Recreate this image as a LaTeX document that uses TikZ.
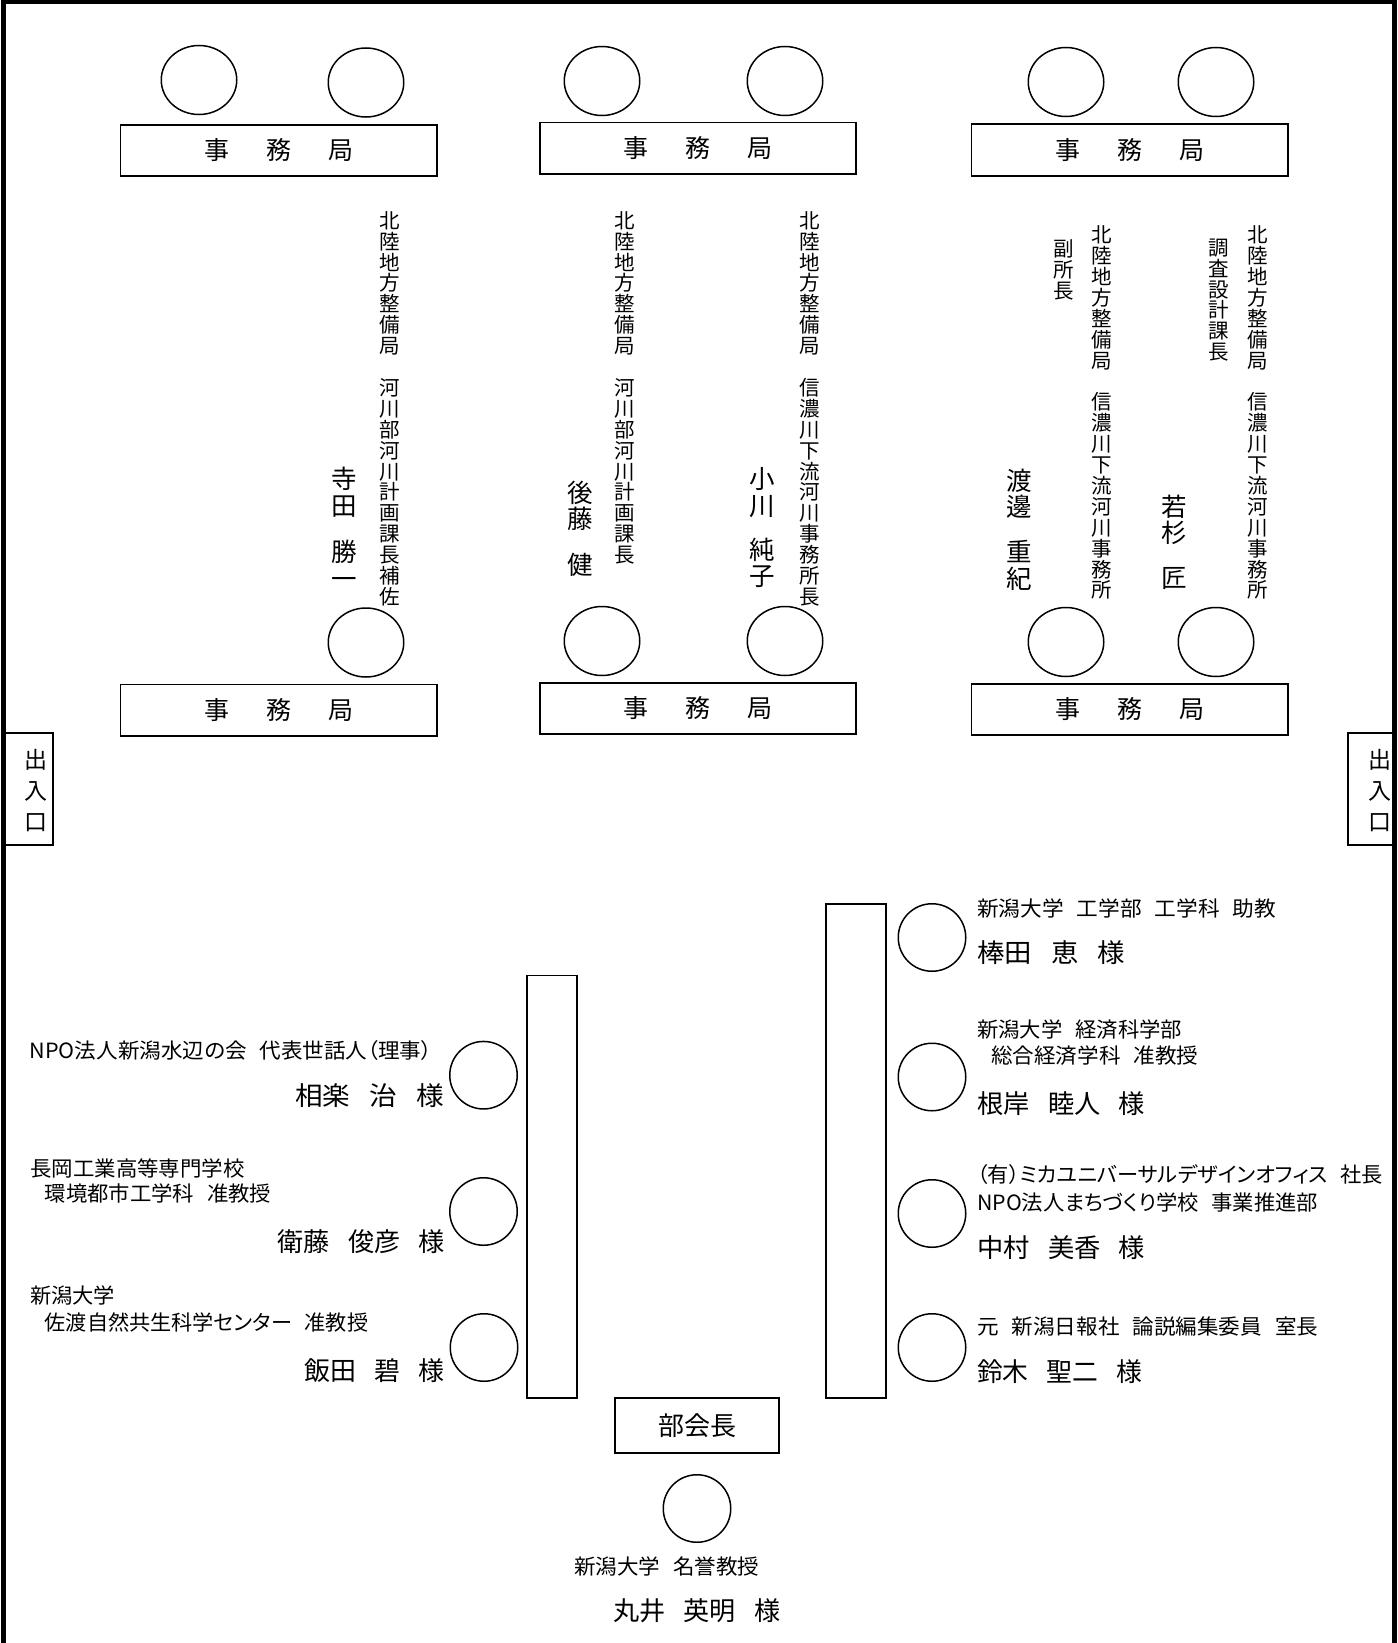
\documentclass[tikz,border=0pt]{standalone}
\usepackage{fontspec}
\usepackage{graphicx}
\usetikzlibrary{shapes.geometric}
\setmainfont{Noto Sans CJK JP}[RawFeature=+palt]
\newcommand\fitwd[2]{\resizebox{#1}{\height}{#2}}
\newcommand\namesp{\hspace{0.7em}}
\newcommand\smsp{\hspace{0.6em}}
\makeatletter
\newcommand\vstk[3]{\vbox{\fontsize{#1}{#2}\selectfont\lineskiplimit=-100pt\relax
  \@tfor\vch:=#3\do{\hbox to 1em{\hss\vch\hss\rule[-0.12em]{0pt}{1em}}}}}
\makeatother
\begin{document}
\begin{tikzpicture}[x=1pt,y=-1pt,
  frame/.style={line width=4.5pt},
  desk/.style={draw,line width=1.8pt,rectangle,inner sep=0pt,minimum width=316.6pt,minimum height=51.7pt,font=\fontsize{25}{30}\selectfont},
  seat/.style={draw,line width=1.5pt,ellipse,inner sep=0pt,minimum width=75.5pt,minimum height=69pt},
  cseat/.style={draw,line width=1.5pt,circle,inner sep=0pt,minimum size=67.5pt},
  tbl/.style={draw,line width=1.8pt,rectangle,inner sep=0pt},
  sm/.style={inner sep=0pt,font=\fontsize{21}{25}\selectfont},
  nm/.style={inner sep=0pt,font=\fontsize{26}{30}\selectfont},
  vt/.style={inner sep=0pt,anchor=north}]
\useasboundingbox (0,0) rectangle (1397,1643);
\fill[white] (0,0) rectangle (1397,1643);
% room frame (no bottom wall)
\draw[frame] (3.5,1643) -- (3.5,2.2) -- (1394.5,2.2) -- (1394.5,1643);

% ---- top row desks
\node[seat] (t1) at (199,80) {};
\node[seat] (t2) at (366,82.5) {};
\node[seat] (t3) at (602,81) {};
\node[seat] (t4) at (785,81) {};
\node[seat] (t5) at (1066,82) {};
\node[seat] (t6) at (1216,82) {};
\node[desk] (d1) at (278.8,150.5) {事\hspace{37pt}務\hspace{37pt}局};
\node[desk] (d2) at (698,148.4) {事\hspace{37pt}務\hspace{37pt}局};
\node[desk] (d3) at (1129.8,149.8) {事\hspace{37pt}務\hspace{37pt}局};

% ---- second row desks
\node[seat] (s1) at (366,642.5) {};
\node[seat] (s2) at (602,641) {};
\node[seat] (s3) at (785,641) {};
\node[seat] (s4) at (1066,642) {};
\node[seat] (s5) at (1216,642) {};
\node[desk] (e1) at (278.8,710.3) {事\hspace{37pt}務\hspace{37pt}局};
\node[desk] (e2) at (698,708.5) {事\hspace{37pt}務\hspace{37pt}局};
\node[desk] (e3) at (1129.8,709.5) {事\hspace{37pt}務\hspace{37pt}局};

% ---- vertical titles
\node[vt] (v1) at (389.3,210) {\vstk{20.5}{20.9}{北陸地方整備局　河川部河川計画課長補佐}};
\node[vt] (v2) at (625,210) {\vstk{20.5}{20.9}{北陸地方整備局　河川部河川計画課長}};
\node[vt] (v3) at (809.4,210) {\vstk{20.5}{20.9}{北陸地方整備局　信濃川下流河川事務所長}};
\node[vt] (v4) at (1064,238) {\vstk{20.5}{20.9}{副所長}};
\node[vt] (v5) at (1102,224.4) {\vstk{20.5}{20.9}{北陸地方整備局　信濃川下流河川事務所}};
\node[vt] (v6) at (1219,237) {\vstk{20.5}{20.9}{調査設計課長}};
\node[vt] (v7) at (1258,224.4) {\vstk{20.5}{20.9}{北陸地方整備局　信濃川下流河川事務所}};

% ---- vertical names
\node[vt] (n1a) at (343.8,466.2) {\vstk{25.5}{26.8}{寺田}};
\node[vt] (n1b) at (343.8,539.3) {\vstk{25.5}{26.8}{勝一}};
\node[vt] (n2a) at (580,479.5) {\vstk{25.5}{26.8}{後藤}};
\node[vt] (n2b) at (580,552.2) {\vstk{25.5}{26.8}{健}};
\node[vt] (n3a) at (762.5,466.1) {\vstk{25.5}{26.8}{小川}};
\node[vt] (n3b) at (762.5,536.5) {\vstk{25.5}{26.8}{純子}};
\node[vt] (n4a) at (1019,467.5) {\vstk{25.5}{26.8}{渡邊}};
\node[vt] (n4b) at (1019,538.8) {\vstk{25.5}{26.8}{重紀}};
\node[vt] (n5a) at (1174,493.5) {\vstk{25.5}{26.8}{若杉}};
\node[vt] (n5b) at (1174,564.5) {\vstk{25.5}{26.8}{匠}};

% ---- entrances
\node[tbl,minimum width=47.7pt,minimum height=112.2pt] (ent1) at (29.3,789) {};
\node[inner sep=0pt] (ent1t) at (35.8,790.5) {\vstk{23}{31}{出入口}};
\node[tbl,minimum width=47.2pt,minimum height=112.2pt] (ent2) at (1371.5,789) {};
\node[inner sep=0pt] (ent2t) at (1379.6,790.5) {\vstk{23}{31}{出入口}};

% ---- committee tables
\node[tbl,minimum width=50.2pt,minimum height=422.7pt] (tl) at (552,1186.8) {};
\node[tbl,minimum width=59.8pt,minimum height=494.2pt] (tr) at (855.8,1151) {};
\node[tbl,minimum width=164.2pt,minimum height=55.2pt,font=\fontsize{26}{30}\selectfont] (chair) at (697,1425.5) {部会長};

% ---- committee seats
\node[cseat] (p1) at (483.5,1075.2) {};
\node[cseat] (p2) at (483.5,1211.5) {};
\node[cseat] (p3) at (484,1347.5) {};
\node[cseat] (q1) at (932,937.5) {};
\node[cseat] (q2) at (932,1077) {};
\node[cseat] (q3) at (932,1213.5) {};
\node[cseat] (q4) at (932,1347.5) {};
\node[cseat] (pc) at (697,1508.5) {};

% ---- left members
\node[sm,anchor=west] (l1a) at (29.5,1051) {\fitwd{402.5pt}{NPO法人新潟水辺の会\smsp 代表世話人（理事）}};
\node[nm,anchor=east] (l1n) at (444.5,1095.5) {\fitwd{149pt}{相楽\namesp 治\namesp 様}};
\node[sm,anchor=west] (l2a) at (30,1168) {\fitwd{214.6pt}{長岡工業高等専門学校}};
\node[sm,anchor=west] (l2b) at (44.6,1193.7) {\fitwd{226.4pt}{環境都市工学科\smsp 准教授}};
\node[nm,anchor=east] (l2n) at (445,1242) {\fitwd{167.3pt}{衛藤\namesp 俊彦\namesp 様}};
\node[sm,anchor=west] (l3a) at (30,1295.5) {\fitwd{85pt}{新潟大学}};
\node[sm,anchor=west] (l3b) at (44.6,1322) {\fitwd{323.4pt}{佐渡自然共生科学センター\smsp 准教授}};
\node[nm,anchor=east] (l3n) at (444.5,1370.5) {\fitwd{140pt}{飯田\namesp 碧\namesp 様}};

% ---- right members
\node[sm,anchor=west] (r1a) at (977,908) {\fitwd{299pt}{新潟大学\smsp 工学部\smsp 工学科\smsp 助教}};
\node[nm,anchor=west] (r1n) at (977,952.7) {\fitwd{148pt}{棒田\namesp 恵\namesp 様}};
\node[sm,anchor=west] (r2a) at (977,1029.5) {\fitwd{205pt}{新潟大学\smsp 経済科学部}};
\node[sm,anchor=west] (r2b) at (991,1056) {\fitwd{207pt}{総合経済学科\smsp 准教授}};
\node[nm,anchor=west] (r2n) at (977,1103.6) {\fitwd{168pt}{根岸\namesp 睦人\namesp 様}};
\node[sm,anchor=west] (r3a) at (977,1174.5) {\fitwd{406pt}{（有）ミカユニバーサルデザインオフィス\smsp 社長}};
\node[sm,anchor=west] (r3b) at (977,1202) {\fitwd{341pt}{NPO法人まちづくり学校\smsp 事業推進部}};
\node[nm,anchor=west] (r3n) at (977,1248) {\fitwd{168pt}{中村\namesp 美香\namesp 様}};
\node[sm,anchor=west] (r4a) at (977,1327) {\fitwd{341pt}{元\smsp 新潟日報社\smsp 論説編集委員\smsp 室長}};
\node[nm,anchor=west] (r4n) at (977,1372) {\fitwd{165pt}{鈴木\namesp 聖二\namesp 様}};

% ---- chair
\node[sm,anchor=west] (c1a) at (574,1566) {\fitwd{185pt}{新潟大学\smsp 名誉教授}};
\node[nm,anchor=west] (c1n) at (613,1611) {\fitwd{167pt}{丸井\namesp 英明\namesp 様}};
\end{tikzpicture}
\end{document}
